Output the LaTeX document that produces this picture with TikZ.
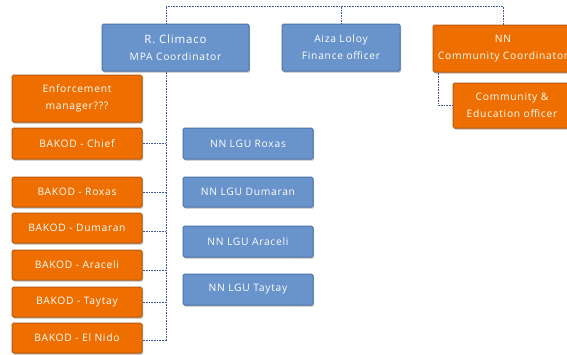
\documentclass[tikz,border=0pt]{standalone}
\usepackage{fontspec}
\setmainfont{Open Sans}[LetterSpace=7]
\usetikzlibrary{shadows}
\definecolor{bfill}{HTML}{6993CB}
\definecolor{bdraw}{HTML}{4A74AA}
\definecolor{ofill}{HTML}{EE6F00}
\definecolor{odraw}{HTML}{B85A10}
\definecolor{lnk}{HTML}{3A5A9C}
\tikzset{
  box/.style={rounded corners=1.5pt, line width=1pt, text=white, align=center,
    font=\fontsize{10.3}{17}\selectfont, inner sep=0pt,
    drop shadow={shadow xshift=1.2pt, shadow yshift=-1.5pt, fill=black!45, opacity=0.6}},
  bluebox/.style={box, fill=bfill, draw=bdraw},
  orangebox/.style={box, fill=ofill, draw=odraw},
  link/.style={draw=lnk, line width=0.6pt, dash pattern=on 0.8pt off 0.8pt},
}
\begin{document}
\begin{tikzpicture}[x=1pt,y=-1pt]
\clip (0,0) rectangle (567,354);
\fill[white] (0,0) rectangle (567,354);
% top row
\node[bluebox, minimum width=147pt, minimum height=47pt] (climaco) at (175.5,47.5) {{\fontsize{11.5}{17}\selectfont R. Climaco}\\MPA Coordinator};
\node[bluebox, minimum width=118pt, minimum height=47pt] (aiza) at (341,47.5) {Aiza Loloy\\Finance officer};
\node[orangebox, minimum width=140pt, minimum height=47pt] (nncc) at (503,48.5) {NN\\Community Coordinator};
\node[orangebox, minimum width=118pt, minimum height=45pt] (cedu) at (512,105.5) {Community \&\\Education officer};
% left column
\node[orangebox, minimum width=130pt, minimum height=47pt] (enf) at (77,98.5) {Enforcement\\manager???};
\node[orangebox, minimum width=130pt, minimum height=31pt] (chief) at (77,143.5) {BAKOD - Chief};
\node[orangebox, minimum width=130pt, minimum height=30pt] (roxas) at (77,192) {BAKOD - Roxas};
\node[orangebox, minimum width=130pt, minimum height=30pt] (dumaran) at (77,228) {BAKOD - Dumaran};
\node[orangebox, minimum width=130pt, minimum height=30pt] (araceli) at (77,265) {BAKOD - Araceli};
\node[orangebox, minimum width=130pt, minimum height=30pt] (taytay) at (77,302) {BAKOD - Taytay};
\node[orangebox, minimum width=130pt, minimum height=30pt] (elnido) at (77,338) {BAKOD - El Nido};
% LGU column
\node[bluebox, minimum width=130pt, minimum height=31pt] (lroxas) at (248,143.5) {NN LGU Roxas};
\node[bluebox, minimum width=130pt, minimum height=30pt] (ldumaran) at (248,192) {NN LGU Dumaran};
\node[bluebox, minimum width=130pt, minimum height=31pt] (laraceli) at (248,241.5) {NN LGU Araceli};
\node[bluebox, minimum width=130pt, minimum height=31pt] (ltaytay) at (248,289.5) {NN LGU Taytay};
% connectors
\coordinate (top) at (166,6);
\coordinate (topr) at (503,6);
\coordinate (bot) at (166,341);
\draw[link] (climaco.north -| top) -- (top) -- (topr) -- (nncc.north -| topr);
\draw[link] (aiza.north) -- (aiza.north |- top);
\draw[link] (climaco.south -| top) -- (bot);
\draw[link] (chief.east) -- (chief.east -| top);
\draw[link] (roxas.east) -- (roxas.east -| top);
\draw[link] ([yshift=-3pt]dumaran.east) -- ([yshift=-3pt]dumaran.east -| top);
\draw[link] ([yshift=-5pt]araceli.east) -- ([yshift=-5pt]araceli.east -| top);
\draw[link] (taytay.east) -- (taytay.east -| top);
\draw[link] ([yshift=-2pt]elnido.east) -- ([yshift=-2pt]elnido.east -| top);
\coordinate (cc) at (438,105);
\draw[link] (nncc.south -| cc) -- (cc) -- (cedu.west |- cc);
\end{tikzpicture}
\end{document}
